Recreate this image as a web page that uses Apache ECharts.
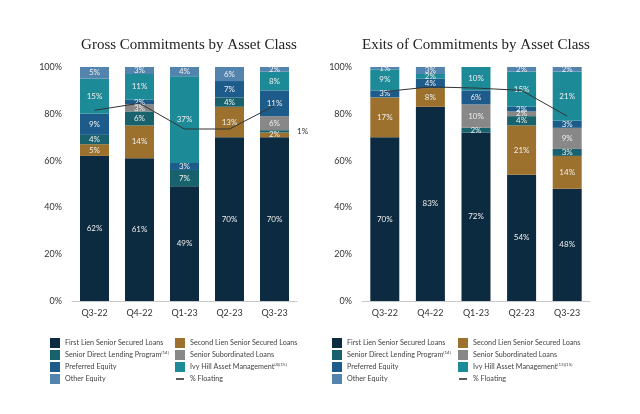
<!DOCTYPE html>
<html><head><meta charset="utf-8">
<script src="https://cdn.jsdelivr.net/npm/echarts@6/dist/echarts.min.js"></script>
<style>html,body{margin:0;padding:0;background:#fff}#c{width:640px;height:414px}</style>
</head><body><div id="c"></div>
<script>
const categories = ['Q3-22','Q4-22','Q1-23','Q2-23','Q3-23'];
const yTicks = [0,20,40,60,80,100];
const seriesNames = ['First Lien Senior Secured Loans','Second Lien Senior Secured Loans','Senior Direct Lending Program','Senior Subordinated Loans','Preferred Equity','Ivy Hill Asset Management','Other Equity'];
const floatingName = '% Floating';
const colors = ['#0c2a40','#9c712e','#17626c','#888888','#1d5b8b','#1d8a98','#5284ae'];

// Gross Commitments by Asset Class (%)
const grossFirstLien  = [62,61,49,70,70];
const grossSecondLien = [5,14,0,13,2];
const grossSDLP       = [4,6,7,4,1];
const grossSubord     = [0,3,0,0,6];
const grossPreferred  = [9,2,3,7,11];
const grossIvy        = [15,11,37,0,8];
const grossOther      = [5,3,4,6,2];
const grossFloating   = [81.5,84.5,73.5,73.5,83.5];

// Exits of Commitments by Asset Class (%)
const exitsFirstLien  = [70,83,72,54,48];
const exitsSecondLien = [17,8,0,21,14];
const exitsSDLP       = [0,0,2,4,3];
const exitsSubord     = [0,0,10,2,9];
const exitsPreferred  = [3,4,6,2,3];
const exitsIvy        = [9,2,10,15,21];
const exitsOther      = [1,3,0,2,2];
const exitsFloating   = [89.5,91.5,91,90,79];

const grossSets = [grossFirstLien,grossSecondLien,grossSDLP,grossSubord,grossPreferred,grossIvy,grossOther];
const exitsSets = [exitsFirstLien,exitsSecondLien,exitsSDLP,exitsSubord,exitsPreferred,exitsIvy,exitsOther];

// labels drawn outside the bar (chart, series, index)
const outside = [[0,2,4]];

const SANS = 'Lato, "Open Sans", sans-serif';
const series = [];
[grossSets, exitsSets].forEach((sets, ci) => {
  sets.forEach((vals, si) => {
    series.push({
      name: seriesNames[si], type: 'bar', stack: 'c' + ci,
      xAxisIndex: ci, yAxisIndex: ci, barWidth: 29,
      itemStyle: {color: colors[si]},
      label: {show: true, position: 'inside', color: '#eeeeee', fontSize: 8, fontFamily: SANS,
        formatter: p => p.value > 0 ? p.value + '%' : ''},
      data: vals.map((v, i) => {
        const o = outside.find(a => a[0] === ci && a[1] === si && a[2] === i);
        return o ? {value: v, label: {position: 'right', color: '#333', distance: 8}} : v;
      })
    });
  });
  series.push({
    name: floatingName, type: 'line', xAxisIndex: ci, yAxisIndex: ci,
    data: ci === 0 ? grossFloating : exitsFloating,
    symbol: 'none', z: 10, lineStyle: {color: '#333', width: 1}, itemStyle: {color: '#333'}
  });
});

const grids = [
  {left: 72, width: 225, top: 67, bottom: 113},
  {left: 362, width: 228, top: 67, bottom: 113}
];
const xAxes = grids.map((g, i) => ({
  type: 'category', gridIndex: i, data: categories,
  axisLine: {lineStyle: {color: '#c8c8c8'}},
  axisTick: {alignWithLabel: true, length: 4, lineStyle: {color: '#c8c8c8'}},
  axisLabel: {color: '#333', fontSize: 9, fontFamily: SANS, margin: 8}
}));
const yAxes = grids.map((g, i) => ({
  type: 'value', gridIndex: i, min: yTicks[0], max: yTicks[yTicks.length-1], interval: yTicks[1]-yTicks[0],
  axisLine: {show: false}, axisTick: {show: false}, splitLine: {show: false},
  axisLabel: {color: '#333', fontSize: 9, fontFamily: SANS, margin: 10, formatter: '{value}%'}
}));

const lineIcon = 'path://M0,0M1,4.2H9V5.8H1ZM10,10';
function legendItems(names) {
  return names.map(n => n === floatingName
    ? {name: n, icon: lineIcon, itemStyle: {color: '#333', borderWidth: 0}}
    : {name: n, icon: 'rect'});
}
function mkLegend(left, names, sup) {
  return {
    left: left, top: 333, orient: 'vertical', itemWidth: 10, itemHeight: 10, itemGap: 2,
    selectedMode: false, data: legendItems(names),
    formatter: n => sup[n] ? n + '{s|' + sup[n] + '}' : n,
    textStyle: {color: '#444', fontSize: 7.2, fontFamily: SANS,
      rich: {s: {fontSize: 4.5, verticalAlign: 'top', color: '#444', fontFamily: SANS, padding: [0,0,4,0]}}}
  };
}
const col1 = [seriesNames[0], seriesNames[2], seriesNames[4], seriesNames[6]];
const col2 = [seriesNames[1], seriesNames[3], seriesNames[5], floatingName];
const supL = {'Senior Direct Lending Program': '(14)', 'Ivy Hill Asset Management': '(4)(15)'};
const supR = {'Senior Direct Lending Program': '(14)', 'Ivy Hill Asset Management': '(13)(15)'};

const chart = echarts.init(document.getElementById('c'), null, {renderer: 'canvas'});
chart.setOption({
  animation: false,
  backgroundColor: '#fff',
  title: [
    {text: 'Gross Commitments by Asset Class', left: 184, top: 33, textAlign: 'center',
     textStyle: {fontFamily: '"Liberation Serif", "DejaVu Serif", serif', fontWeight: 'normal', fontSize: 15, color: '#222'}},
    {text: 'Exits of Commitments by Asset Class', left: 471, top: 33, textAlign: 'center',
     textStyle: {fontFamily: '"Liberation Serif", "DejaVu Serif", serif', fontWeight: 'normal', fontSize: 15, color: '#222'}}
  ],
  legend: [mkLegend(45, col1, supL), mkLegend(170, col2, supL), mkLegend(327, col1, supR), mkLegend(453, col2, supR)],
  grid: grids, xAxis: xAxes, yAxis: yAxes, series: series
});
</script></body></html>
